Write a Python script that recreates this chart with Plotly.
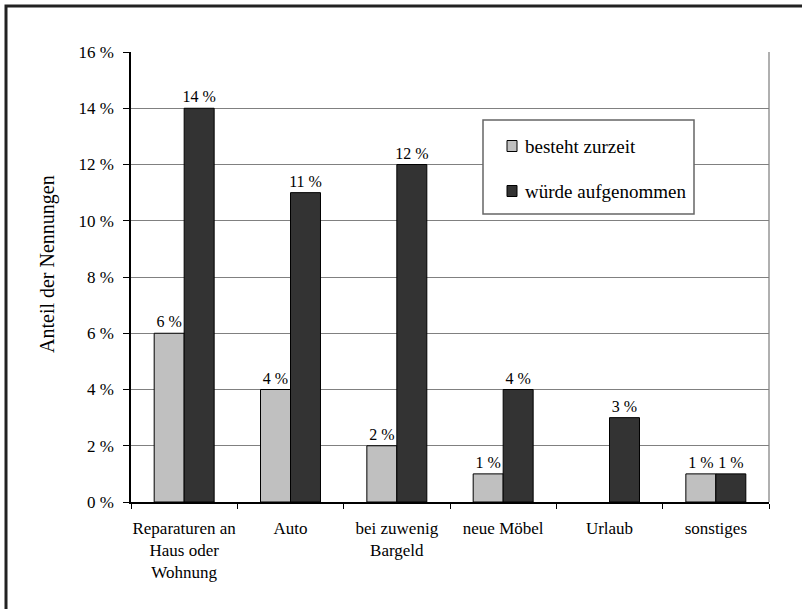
import plotly.graph_objects as go

# Kategorien und Anteile (in %)
categories = ["Reparaturen an<br>Haus oder<br>Wohnung", "Auto", "bei zuwenig<br>Bargeld",
              "neue Möbel", "Urlaub", "sonstiges"]
besteht_zurzeit = [6, 4, 2, 1, 0, 1]
wuerde_aufgenommen = [14, 11, 12, 4, 3, 1]
y_ticks = [0, 2, 4, 6, 8, 10, 12, 14, 16]
y_tick_text = [f"{v} %" for v in y_ticks]
series_names = ["besteht zurzeit", "würde aufgenommen"]

FONT = "Liberation Serif"
LIGHT = "#c0c0c0"
DARK = "#333333"

W, H = 802, 609
L, R, T, B = 131, 769, 52, 502


def px_x(px):
    return (px - L) / (R - L)


def px_y(py):
    return (B - py) / (B - T)


def labels(vals):
    return [f"{v} %" if v else "" for v in vals]


fig = go.Figure()
for name, vals, col in [(series_names[0], besteht_zurzeit, LIGHT),
                        (series_names[1], wuerde_aufgenommen, DARK)]:
    fig.add_trace(go.Bar(
        x=categories, y=vals, name=name,
        marker=dict(color=col,
                    line=dict(color="black", width=[1 if v else 0 for v in vals])),
        text=labels(vals), textposition="outside", constraintext="none",
        textfont=dict(family=FONT, size=16, color="black"),
        cliponaxis=False, showlegend=False,
    ))

shapes = []
# äußerer Rahmen
shapes.append(dict(type="rect", xref="paper", yref="paper",
                   x0=px_x(6), x1=px_x(900), y0=px_y(6), y1=px_y(700),
                   line=dict(color="#222222", width=3), layer="above"))
# rechter Rand der Zeichenfläche
shapes.append(dict(type="line", xref="paper", yref="paper",
                   x0=1, x1=1, y0=0, y1=1,
                   line=dict(color="#b0b0b0", width=2), layer="below"))
# Legendenkasten
shapes.append(dict(type="rect", xref="paper", yref="paper",
                   x0=px_x(483), x1=px_x(694), y0=px_y(120), y1=px_y(214),
                   line=dict(color="#666666", width=1.5), fillcolor="white",
                   layer="above"))
annotations = []
for (name, col, cy) in [(series_names[0], LIGHT, 146), (series_names[1], DARK, 191)]:
    shapes.append(dict(type="rect", xref="paper", yref="paper",
                       x0=px_x(507), x1=px_x(517), y0=px_y(cy - 5.5), y1=px_y(cy + 5.5),
                       line=dict(color="black", width=1), fillcolor=col, layer="above"))
    annotations.append(dict(xref="paper", yref="paper", x=px_x(523), y=px_y(cy),
                            xanchor="left", yanchor="middle", showarrow=False,
                            text=name, font=dict(family=FONT, size=19, color="black")))

# Achsentitel
annotations.append(dict(xref="paper", yref="paper", x=px_x(47), y=px_y(264),
                        xanchor="center", yanchor="middle", showarrow=False,
                        textangle=-90, text="Anteil der Nennungen",
                        font=dict(family=FONT, size=20, color="black")))

fig.update_layout(
    width=W, height=H,
    margin=dict(l=L, r=W - R, t=T, b=H - B, pad=0),
    paper_bgcolor="white", plot_bgcolor="white",
    barmode="group", bargap=0.436, bargroupgap=0,
    font=dict(family=FONT, size=16, color="black"),
    shapes=shapes, annotations=annotations,
    showlegend=False,
)
fig.update_xaxes(
    automargin=False, tickangle=0,
    showline=True, linecolor="black", linewidth=1.5,
    ticks="outside", tickson="boundaries", ticklen=5, tickcolor="black",
    ticklabelstandoff=10,
    tickfont=dict(family=FONT, size=17, color="black"),
    showgrid=False, zeroline=False,
)
fig.update_yaxes(
    automargin=False,
    range=[0, 16], tickmode="array", tickvals=y_ticks, ticktext=y_tick_text,
    showline=True, linecolor="black", linewidth=1.5,
    ticks="outside", ticklen=6, tickcolor="black",
    ticklabelstandoff=6,
    tickfont=dict(family=FONT, size=17, color="black"),
    showgrid=True, gridcolor="#808080", gridwidth=1,
    zeroline=False,
)

fig.write_html("out.html")
